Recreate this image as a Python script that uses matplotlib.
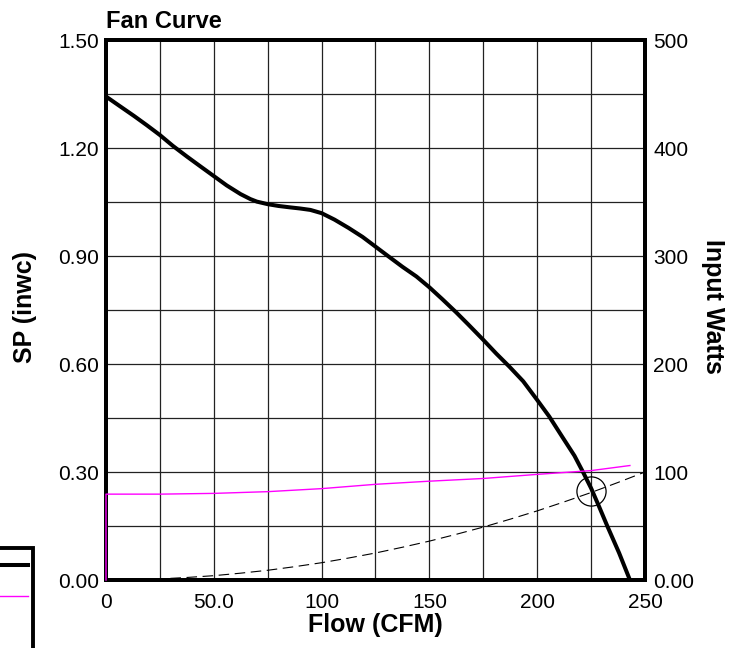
import numpy as np
import matplotlib
matplotlib.use("Agg")
import matplotlib.pyplot as plt
from matplotlib.patches import Rectangle
from matplotlib.lines import Line2D

plt.rcParams['font.family'] = ['Liberation Sans', 'DejaVu Sans']

# fan curve (static pressure, inwc)
fan_flow = [0, 6, 13, 19, 25, 31, 37.6, 44, 50, 56, 62.4, 67, 70, 75, 80, 85.5, 90, 94.8,
            100, 106, 112.5, 119, 125, 131, 137.5, 144, 150, 156, 162.5, 168, 175, 181,
            187.2, 193.5, 200, 205.6, 211.8, 217.3, 221.4, 225, 228.7, 232.5, 238, 243]
fan_sp = [1.343, 1.318, 1.289, 1.263, 1.236, 1.206, 1.176, 1.148, 1.122, 1.096, 1.072, 1.058,
          1.051, 1.044, 1.039, 1.035, 1.032, 1.028, 1.019, 1.001, 0.978, 0.953, 0.926, 0.899,
          0.870, 0.843, 0.813, 0.780, 0.743, 0.710, 0.667, 0.629, 0.592, 0.552, 0.500, 0.454,
          0.396, 0.345, 0.298, 0.255, 0.204, 0.150, 0.075, 0.0]

# input power (watts, right axis)
pwr_flow = [0, 0, 25, 50, 75, 100, 125, 150, 175, 200, 225, 243]
pwr_watts = [0, 79.5, 79.5, 80.2, 81.8, 84.6, 88.6, 91.5, 94.0, 97.8, 101.3, 106.0]

# system curve (dashed)
sys_flow = [0, 12.5, 25, 37.5, 50, 62.5, 75, 87.5, 100, 112.5, 125, 137.5,
            150, 162.5, 175, 187.5, 200, 212.5, 225, 237.5, 250]
sys_sp = [0.0, 0.001, 0.003, 0.007, 0.012, 0.019, 0.027, 0.037, 0.048, 0.061, 0.075, 0.091,
          0.108, 0.127, 0.147, 0.169, 0.192, 0.217, 0.243, 0.271, 0.300]

# operating point
op_flow = 225.0
op_sp = 0.248

x_ticks = [0, 50, 100, 150, 200, 250]
x_labels = ['0', '50.0', '100', '150', '200', '250']
sp_ticks = [0, 0.3, 0.6, 0.9, 1.2, 1.5]
sp_labels = ['0.00', '0.30', '0.60', '0.90', '1.20', '1.50']
w_ticks = [0, 100, 200, 300, 400, 500]
w_labels = ['0.00', '100', '200', '300', '400', '500']

fig = plt.figure(figsize=(7.42, 6.48), dpi=100)
ax = fig.add_axes([106/742, 1-580/648, 539/742, 540/648])
ax2 = ax.twinx()

ax.set_xlim(0, 250)
ax.set_ylim(0, 1.5)
ax2.set_ylim(0, 500)

# grid
ax.set_xticks(x_ticks)
ax.set_xticklabels(x_labels)
ax.set_xticks(np.arange(25, 250, 50), minor=True)
ax.set_yticks(sp_ticks)
ax.set_yticklabels(sp_labels)
ax.set_yticks(np.arange(0.15, 1.5, 0.3), minor=True)
ax.grid(True, which='both', color='#222222', lw=0.9)
ax.tick_params(which='both', length=0, labelsize=15)
ax.tick_params(axis='x', pad=9)
ax.tick_params(axis='y', pad=5)

ax2.set_yticks(w_ticks)
ax2.set_yticklabels(w_labels)
ax2.tick_params(length=0, labelsize=15, pad=6)

for a in (ax, ax2):
    for s in a.spines.values():
        s.set_linewidth(2.8)
        s.set_color('black')

ax.plot(sys_flow, sys_sp, color='black', lw=0.8, dashes=(9.5, 5), zorder=3)
ax.plot(fan_flow, fan_sp, color='black', lw=2.9, zorder=4, solid_joinstyle='round')
ax2.plot(pwr_flow, pwr_watts, color='#ff00ff', lw=1.0, zorder=5, clip_on=False)
ax.plot([op_flow], [op_sp], marker='o', ms=21, mfc='none', mec='black', mew=0.9, zorder=6)

ax.set_title('Fan Curve', loc='left', fontsize=17, fontweight='bold', pad=9)
ax.set_xlabel('Flow (CFM)', fontsize=18, fontweight='bold')
ax.xaxis.set_label_coords(0.5, -0.062)
ax.set_ylabel('SP (inwc)', fontsize=18, fontweight='bold')
ax.yaxis.set_label_coords(-0.128, 0.506)
ax2.set_ylabel('Input Watts', fontsize=18, fontweight='bold', rotation=270, va='center')
ax2.yaxis.set_label_coords(1.126, 0.507)

# legend box, cut off at the lower left
box = Rectangle((-20/742, -20/648), 53/742, 120/648, transform=fig.transFigure,
                fill=False, lw=2.8, ec='black', clip_on=False)
fig.add_artist(box)
fig.add_artist(Line2D([0, 28/742], [1-565/648, 1-565/648], transform=fig.transFigure,
                      color='black', lw=2.9))
fig.add_artist(Line2D([0, 28/742], [1-596/648, 1-596/648], transform=fig.transFigure,
                      color='#ff00ff', lw=1.0))

fig.savefig('out.png', dpi=100)
